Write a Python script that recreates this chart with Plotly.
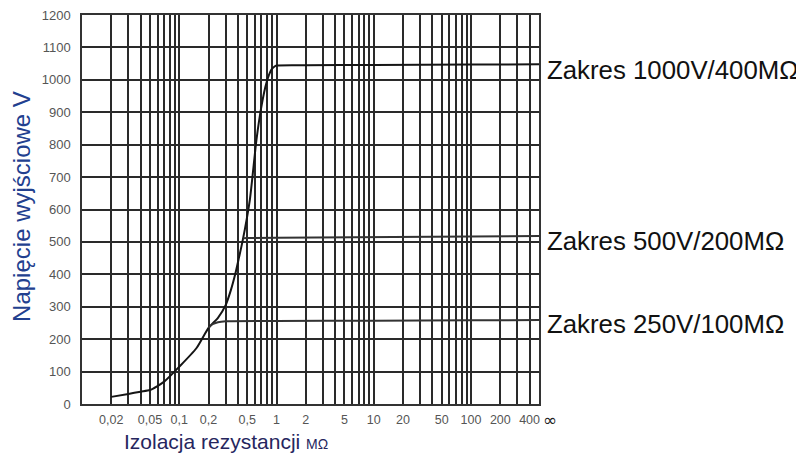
import plotly.graph_objects as go

# ---- data ----
main_x = [0.02, 0.03, 0.04, 0.05, 0.07, 0.1, 0.15, 0.2, 0.25, 0.3, 0.34, 0.376, 0.41, 0.446,
          0.532, 0.622, 0.70, 0.787, 0.884, 0.955, 1.0, 2, 10, 100, 500]
main_y = [22, 31, 38, 43, 69, 115, 172, 235, 266, 305, 352, 400, 450, 500,
          630, 815, 918, 990, 1031, 1041, 1044, 1045, 1046, 1047, 1048]

r250_x = [0.2, 0.22, 0.25, 0.3, 1, 10, 100, 500]
r250_y = [235, 246, 252, 255, 256, 257, 258, 259]

r500_x = [0.456, 0.5, 1, 10, 100, 500]
r500_y = [511, 512, 513, 515, 517, 518]

range_labels = ["Zakres 1000V/400MΩ", "Zakres 500V/200MΩ", "Zakres 250V/100MΩ"]
range_label_y = [1031, 503, 247]

grid_x = ([0.02, 0.03, 0.04, 0.05, 0.06, 0.07, 0.08, 0.09, 0.1,
           0.2, 0.3, 0.4, 0.5, 0.6, 0.7, 0.8, 0.9, 1,
           2, 3, 4, 5, 6, 7, 8, 9, 10,
           20, 30, 40, 50, 60, 70, 80, 90, 100,
           200, 300, 400])
labelled = {0.02: "0,02", 0.05: "0,05", 0.1: "0,1", 0.2: "0,2", 0.5: "0,5",
            1: "1", 2: "2", 5: "5", 10: "10", 20: "20", 50: "50",
            100: "100", 200: "200", 400: "400"}
x_ticktext = [labelled.get(v, "") for v in grid_x]

y_ticks = list(range(0, 1300, 100))

x_title = "Izolacja rezystancji <span style='font-size:14px'>MΩ</span>"
y_title = "Napięcie wyjściowe V"

# ---- figure ----
fig = go.Figure()
fig.add_trace(go.Scatter(x=main_x, y=main_y, mode="lines",
                         line=dict(color="#151515", width=2, shape="spline", smoothing=0.6),
                         showlegend=False, hoverinfo="skip"))
fig.add_trace(go.Scatter(x=r250_x, y=r250_y, mode="lines",
                         line=dict(color="#333333", width=2, shape="spline", smoothing=0.6),
                         showlegend=False, hoverinfo="skip"))
fig.add_trace(go.Scatter(x=r500_x, y=r500_y, mode="lines",
                         line=dict(color="#333333", width=2),
                         showlegend=False, hoverinfo="skip"))

for txt, yv in zip(range_labels, range_label_y):
    fig.add_annotation(x=1.0, xref="paper", xanchor="left", xshift=6,
                       y=yv, yref="y", yanchor="middle", text=txt,
                       showarrow=False,
                       font=dict(family="Liberation Sans, Arial", size=25.8,
                                 color="#111111"))

fig.add_annotation(x=1.0, xref="paper", xanchor="left", xshift=2,
                   y=0, yref="y", yanchor="top", yshift=-4, text="∞",
                   showarrow=False,
                   font=dict(family="DejaVu Sans", size=17, color="#222222"))

# axis titles placed as annotations to match the reference positions
fig.add_annotation(x=0, xref="paper", xanchor="left", xshift=-82 + 122,
                   y=0, yref="paper", yanchor="middle", yshift=-37,
                   text=x_title, showarrow=False,
                   font=dict(family="Liberation Sans, Arial", size=21, color="#26265e"))
fig.add_annotation(x=0, xref="paper", xanchor="center", xshift=-60,
                   y=608, yref="y", yanchor="middle", textangle=-90,
                   text=y_title, showarrow=False,
                   font=dict(family="Liberation Sans, Arial", size=24, color="#22408f"))

common_grid = dict(showgrid=True, gridcolor="#2a2a2a", gridwidth=1.5,
                   showline=True, linecolor="#333333", linewidth=1.5, mirror=True,
                   zeroline=False, ticks="", automargin=False,
                   ticklabeloverflow="allow")

fig.update_xaxes(type="log", range=[-2, 2.699],
                 tickvals=grid_x, ticktext=x_ticktext, ticklabelstandoff=3,
                 tickfont=dict(family="Liberation Sans", size=12.5, color="#555555"),
                 **common_grid)
fig.update_yaxes(range=[0, 1200], tickvals=y_ticks, ticklabelstandoff=7,
                 tickfont=dict(family="Liberation Sans", size=13, color="#555555"),
                 **common_grid)

# the page body adds an 8 px offset, so margins are reduced accordingly
fig.update_layout(width=804, height=461,
                  margin=dict(l=74, r=273, t=7, b=65, autoexpand=False),
                  plot_bgcolor="white", paper_bgcolor="white")

fig.write_html("out.html")
